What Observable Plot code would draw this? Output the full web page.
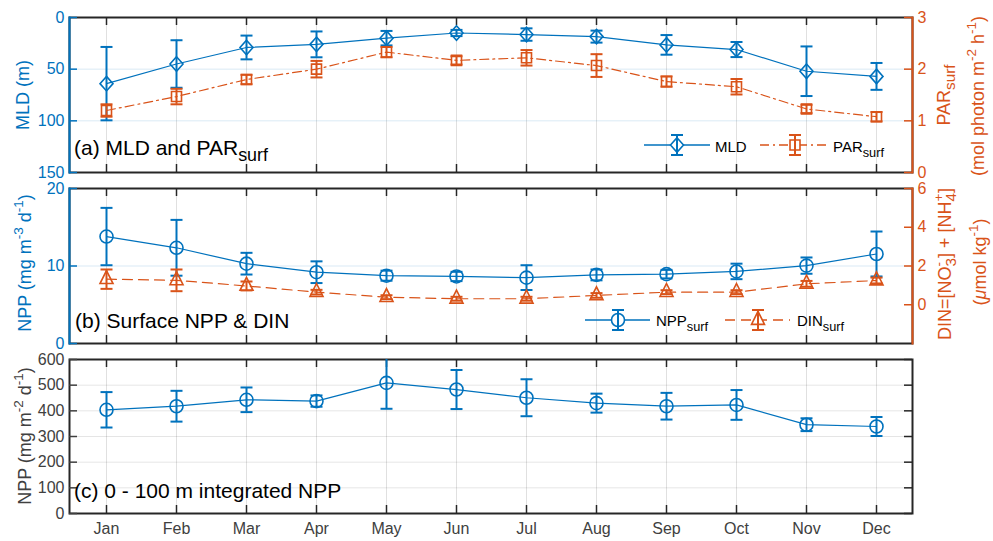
<!DOCTYPE html>
<html><head><meta charset="utf-8">
<script src="https://cdn.jsdelivr.net/npm/d3@7"></script>
<script src="https://cdn.jsdelivr.net/npm/@observablehq/plot@0.6"></script>
<style>
body{margin:0;background:#fff;}
#wrap{position:relative;width:993px;height:541px;font-family:"Liberation Sans",Arial,Helvetica,sans-serif;}
</style></head><body><div id="wrap"></div>
<script>
// ---------------- data ----------------
const months = ["Jan","Feb","Mar","Apr","May","Jun","Jul","Aug","Sep","Oct","Nov","Dec"];
const mld = [64, 45, 29, 26, 20, 15, 16.5, 18.5, 26.5, 31, 52, 57];
const mldErr = [35.5, 23, 11.5, 12.5, 7, 3, 6, 5.8, 9.5, 7.3, 24, 13];
const par = [1.2, 1.47, 1.8, 2.0, 2.33, 2.17, 2.22, 2.07, 1.76, 1.66, 1.23, 1.08];
const parErr = [0.12, 0.15, 0.09, 0.16, 0.1, 0.08, 0.15, 0.22, 0.1, 0.15, 0.08, 0.09];
const nppSurf = [13.8, 12.35, 10.3, 9.2, 8.75, 8.65, 8.5, 8.85, 8.95, 9.3, 10.05, 11.55];
const nppSurfErr = [3.7, 3.6, 1.4, 1.4, 0.65, 0.6, 1.6, 0.7, 0.55, 1.0, 1.05, 2.9];
const din = [1.32, 1.26, 0.97, 0.65, 0.39, 0.31, 0.31, 0.48, 0.65, 0.65, 1.08, 1.25];
const dinErr = [0.5, 0.56, 0.23, 0.12, 0.1, 0.1, 0.1, 0.12, 0.1, 0.1, 0.15, 0.15];
const nppInt = [404, 418, 443, 438, 509, 483, 451, 430, 418, 423, 346, 339];
const nppIntErr = [69, 60, 48, 22, 101, 76, 72, 37, 52, 58, 25, 37];

const mldTicks = [0, 50, 100, 150];
const parTicks = [0, 1, 2, 3];
const nppSurfTicks = [0, 10, 20];
const dinTicks = [0, 2, 4, 6];
const nppIntTicks = [0, 100, 200, 300, 400, 500, 600];

const rows = months.map((m, i) => ({
  month: m, mld: mld[i], mldErr: mldErr[i], par: par[i], parErr: parErr[i],
  nppSurf: nppSurf[i], nppSurfErr: nppSurfErr[i], din: din[i], dinErr: dinErr[i],
  nppInt: nppInt[i], nppIntErr: nppIntErr[i]
}));

// ---------------- styling ----------------
const W = 993, H = 541, ML = 69, MR = 81, FW = W - ML - MR, TICK = 8;
const BLUE = "#0072BD", ORANGE = "#D95319", AX = "#262626", TXT = "#404040";
const FONT = "Liberation Sans, Arial, Helvetica, sans-serif";
const panels = {a: {top: 17, bottom: 172}, b: {top: 188, bottom: 343}, c: {top: 359, bottom: 513}};

// custom marker symbols
const cap = {draw(c, s) { const r = Math.sqrt(s / Math.PI); c.moveTo(-r, 0); c.lineTo(r, 0); }};
const diamond = {draw(c, s) { const r = Math.sqrt(s / Math.PI); c.moveTo(0, -1.12 * r); c.lineTo(r, 0); c.lineTo(0, 1.12 * r); c.lineTo(-r, 0); c.closePath(); }};
const square = {draw(c, s) { const r = Math.sqrt(s / Math.PI); c.rect(-r, -r, 2 * r, 2 * r); }};
const triangle = {draw(c, s) { const r = Math.sqrt(s / Math.PI); c.moveTo(0, -1.33 * r); c.lineTo(r, 0.67 * r); c.lineTo(-r, 0.67 * r); c.closePath(); }};

function series(key, errKey, color, symbol, r, dash) {
  return [
    Plot.line(rows, {x: "month", y: key, stroke: color, strokeWidth: 1.2, strokeDasharray: dash}),
    Plot.ruleX(rows, {x: "month", y1: d => d[key] - d[errKey], y2: d => d[key] + d[errKey], stroke: color, strokeWidth: 2, clip: true}),
    Plot.dot(rows, {x: "month", y: d => d[key] - d[errKey], symbol: cap, r: 6, stroke: color, fill: "none", strokeWidth: 2, clip: true}),
    Plot.dot(rows, {x: "month", y: d => d[key] + d[errKey], symbol: cap, r: 6, stroke: color, fill: "none", strokeWidth: 2, clip: true}),
    Plot.dot(rows, {x: "month", y: key, symbol, r, stroke: color, fill: "none", strokeWidth: 1.6})
  ];
}

// inward tick marks on top and bottom edges
function xTicks(p) {
  const fh = p.bottom - p.top;
  return [
    Plot.tickX(months, {insetTop: fh - TICK, stroke: AX, strokeWidth: 1.5}),
    Plot.tickX(months, {insetBottom: fh - TICK, stroke: AX, strokeWidth: 1.5})
  ];
}

// inward y ticks plus optional labels
function yAxis(anchor, ticks, color, labels = true) {
  const m = [Plot.tickY(ticks, anchor === "left"
    ? {insetRight: FW - TICK, stroke: color, strokeWidth: 1.5}
    : {insetLeft: FW - TICK, stroke: color, strokeWidth: 1.5})];
  if (labels) m.push(Plot.axisY({anchor, ticks, tickSize: 0, tickPadding: 5, tickFormat: "d", label: null, color, fontSize: 16}));
  return m;
}

function layer(p, y, marks) {
  const svg = Plot.plot({
    width: W, height: H,
    marginLeft: ML, marginRight: MR, marginTop: p.top, marginBottom: H - p.bottom,
    x: {type: "point", domain: months, padding: 0.5, axis: null, label: null},
    y: {...y, axis: null, label: null},
    style: {background: "transparent", fontFamily: FONT, fontSize: "16px", overflow: "visible"},
    marks
  });
  svg.style.position = "absolute"; svg.style.left = "0px"; svg.style.top = "0px";
  document.getElementById("wrap").appendChild(svg);
}

// ---------------- panel (a) ----------------
layer(panels.a, {domain: [0, 150], reverse: true}, [
  Plot.gridX({stroke: "#000", strokeOpacity: 0.12}),
  Plot.gridY([50, 100], {stroke: BLUE, strokeOpacity: 0.15}),
  Plot.frame({stroke: AX, strokeWidth: 2}),
  Plot.frame({anchor: "left", stroke: BLUE, strokeWidth: 2}),
  ...xTicks(panels.a),
  ...yAxis("left", mldTicks, BLUE),
  ...series("mld", "mldErr", BLUE, diamond, 6.5)
]);
layer(panels.a, {domain: [0, 3]}, [
  Plot.frame({anchor: "right", stroke: ORANGE, strokeWidth: 2}),
  ...yAxis("right", parTicks, ORANGE),
  ...series("par", "parErr", ORANGE, square, 5, "9 4 2 4")
]);

// ---------------- panel (b) ----------------
layer(panels.b, {domain: [0, 20]}, [
  Plot.gridX({stroke: "#000", strokeOpacity: 0.12}),
  Plot.gridY([10], {stroke: BLUE, strokeOpacity: 0.15}),
  Plot.frame({stroke: AX, strokeWidth: 2}),
  Plot.frame({anchor: "left", stroke: BLUE, strokeWidth: 2}),
  ...xTicks(panels.b),
  ...yAxis("left", nppSurfTicks, BLUE),
  ...series("nppSurf", "nppSurfErr", BLUE, "circle", 6.5)
]);
layer(panels.b, {domain: [-2, 6]}, [
  Plot.frame({anchor: "right", stroke: ORANGE, strokeWidth: 2}),
  ...yAxis("right", dinTicks, ORANGE),
  ...series("din", "dinErr", ORANGE, triangle, 6.5, "10 6")
]);

// ---------------- panel (c) ----------------
layer(panels.c, {domain: [0, 600]}, [
  Plot.gridX({stroke: "#000", strokeOpacity: 0.12}),
  Plot.gridY(nppIntTicks, {stroke: "#000", strokeOpacity: 0.1}),
  Plot.frame({stroke: AX, strokeWidth: 2}),
  ...xTicks(panels.c),
  Plot.axisX({anchor: "bottom", tickSize: 0, tickPadding: 9, label: null, color: TXT, fontSize: 16}),
  ...yAxis("left", nppIntTicks, TXT),
  ...yAxis("right", nppIntTicks, AX, false),
  ...series("nppInt", "nppIntErr", BLUE, "circle", 6.5)
]);

// ---------------- text overlay: labels, titles, legends ----------------
const ov = d3.select("#wrap").append("svg")
  .attr("width", W).attr("height", H)
  .style("position", "absolute").style("left", "0px").style("top", "0px")
  .attr("font-family", FONT);

function rich(x, y, parts, {size = 18, color = "#000", rotate = false, anchor = "middle"} = {}) {
  const t = ov.append("text").attr("font-size", size).attr("fill", color).attr("text-anchor", anchor);
  if (rotate) t.attr("transform", `translate(${x},${y}) rotate(-90)`);
  else t.attr("x", x).attr("y", y);
  let shift = 0;
  for (const [s, kind, dx, style] of parts) {
    const target = kind === "sup" ? -0.42 * size : kind === "sub" ? 0.3 * size : 0;
    const ts = t.append("tspan").text(s).attr("dy", target - shift);
    if (dx) ts.attr("dx", dx);
    if (kind === "sup") ts.attr("font-size", size * 0.75);
    if (kind === "sub") ts.attr("font-size", size * 0.85);
    if (style) ts.attr("font-style", style);
    shift = target;
  }
}

// y-axis labels
rich(29, 95, [["MLD (m)", "n"]], {color: BLUE, rotate: true});
rich(31, 263, [["NPP (mg m", "n"], ["-3", "sup"], [" d", "n"], ["-1", "sup"], [")", "n"]], {color: BLUE, rotate: true});
rich(31, 436, [["NPP (mg m", "n"], ["-2", "sup"], [" d", "n"], ["-1", "sup"], [")", "n"]], {color: TXT, rotate: true});
rich(950, 95, [["PAR", "n"], ["surf", "sub"]], {color: ORANGE, rotate: true});
rich(984, 96, [["(mol photon m", "n"], ["-2", "sup"], [" h", "n"], ["-1", "sup"], [")", "n"]], {color: ORANGE, rotate: true});
rich(951, 264, [["DIN=[NO", "n"], ["-", "sup"], ["3", "sub", -4.5], ["] + [NH", "n"], ["+", "sup"], ["4", "sub", -8], ["]", "n"]], {color: ORANGE, rotate: true});
rich(986, 262, [["(", "n"], ["\u03bc", "n", 0, "italic"], ["mol kg", "n"], ["-1", "sup"], [")", "n"]], {color: ORANGE, rotate: true});

// panel titles
rich(74, 155, [["(a) MLD and PAR", "n"], ["surf", "sub"]], {size: 21, anchor: "start"});
rich(75, 328, [["(b) Surface NPP & DIN", "n"]], {size: 21, anchor: "start"});
rich(74, 498, [["(c) 0 - 100 m integrated NPP", "n"]], {size: 21, anchor: "start"});

// legends
function legendItem(x1, x2, xm, y, color, dash, symbolType, r) {
  ov.append("line").attr("x1", x1).attr("x2", x2).attr("y1", y).attr("y2", y)
    .attr("stroke", color).attr("stroke-width", 1.5).attr("stroke-dasharray", dash || null);
  ov.append("path").attr("transform", `translate(${xm},${y})`)
    .attr("d", d3.symbol(symbolType, Math.PI * r * r)())
    .attr("fill", "white").attr("stroke", color).attr("stroke-width", 1.6);
  ov.append("line").attr("x1", xm).attr("x2", xm).attr("y1", y - 10).attr("y2", y + 10).attr("stroke", color).attr("stroke-width", 2);
  for (const dy of [-10, 10]) ov.append("line").attr("x1", xm - 6).attr("x2", xm + 6).attr("y1", y + dy).attr("y2", y + dy).attr("stroke", color).attr("stroke-width", 2);
}
legendItem(644, 710, 677, 145, BLUE, null, diamond, 6.5);
rich(715, 152, [["MLD", "n"]], {size: 15, anchor: "start", color: "#000"});
legendItem(760, 827, 795, 145, ORANGE, "9 4 2 4", square, 5);
rich(833, 152, [["PAR", "n"], ["surf", "sub"]], {size: 15, anchor: "start", color: "#000"});
legendItem(585, 650, 618, 320, BLUE, null, d3.symbolCircle, 6.5);
rich(656, 326, [["NPP", "n"], ["surf", "sub"]], {size: 15, anchor: "start", color: "#000"});
legendItem(725, 790, 758, 320, ORANGE, "10 6", triangle, 6.5);
rich(797, 326, [["DIN", "n"], ["surf", "sub"]], {size: 15, anchor: "start", color: "#000"});
</script></body></html>
